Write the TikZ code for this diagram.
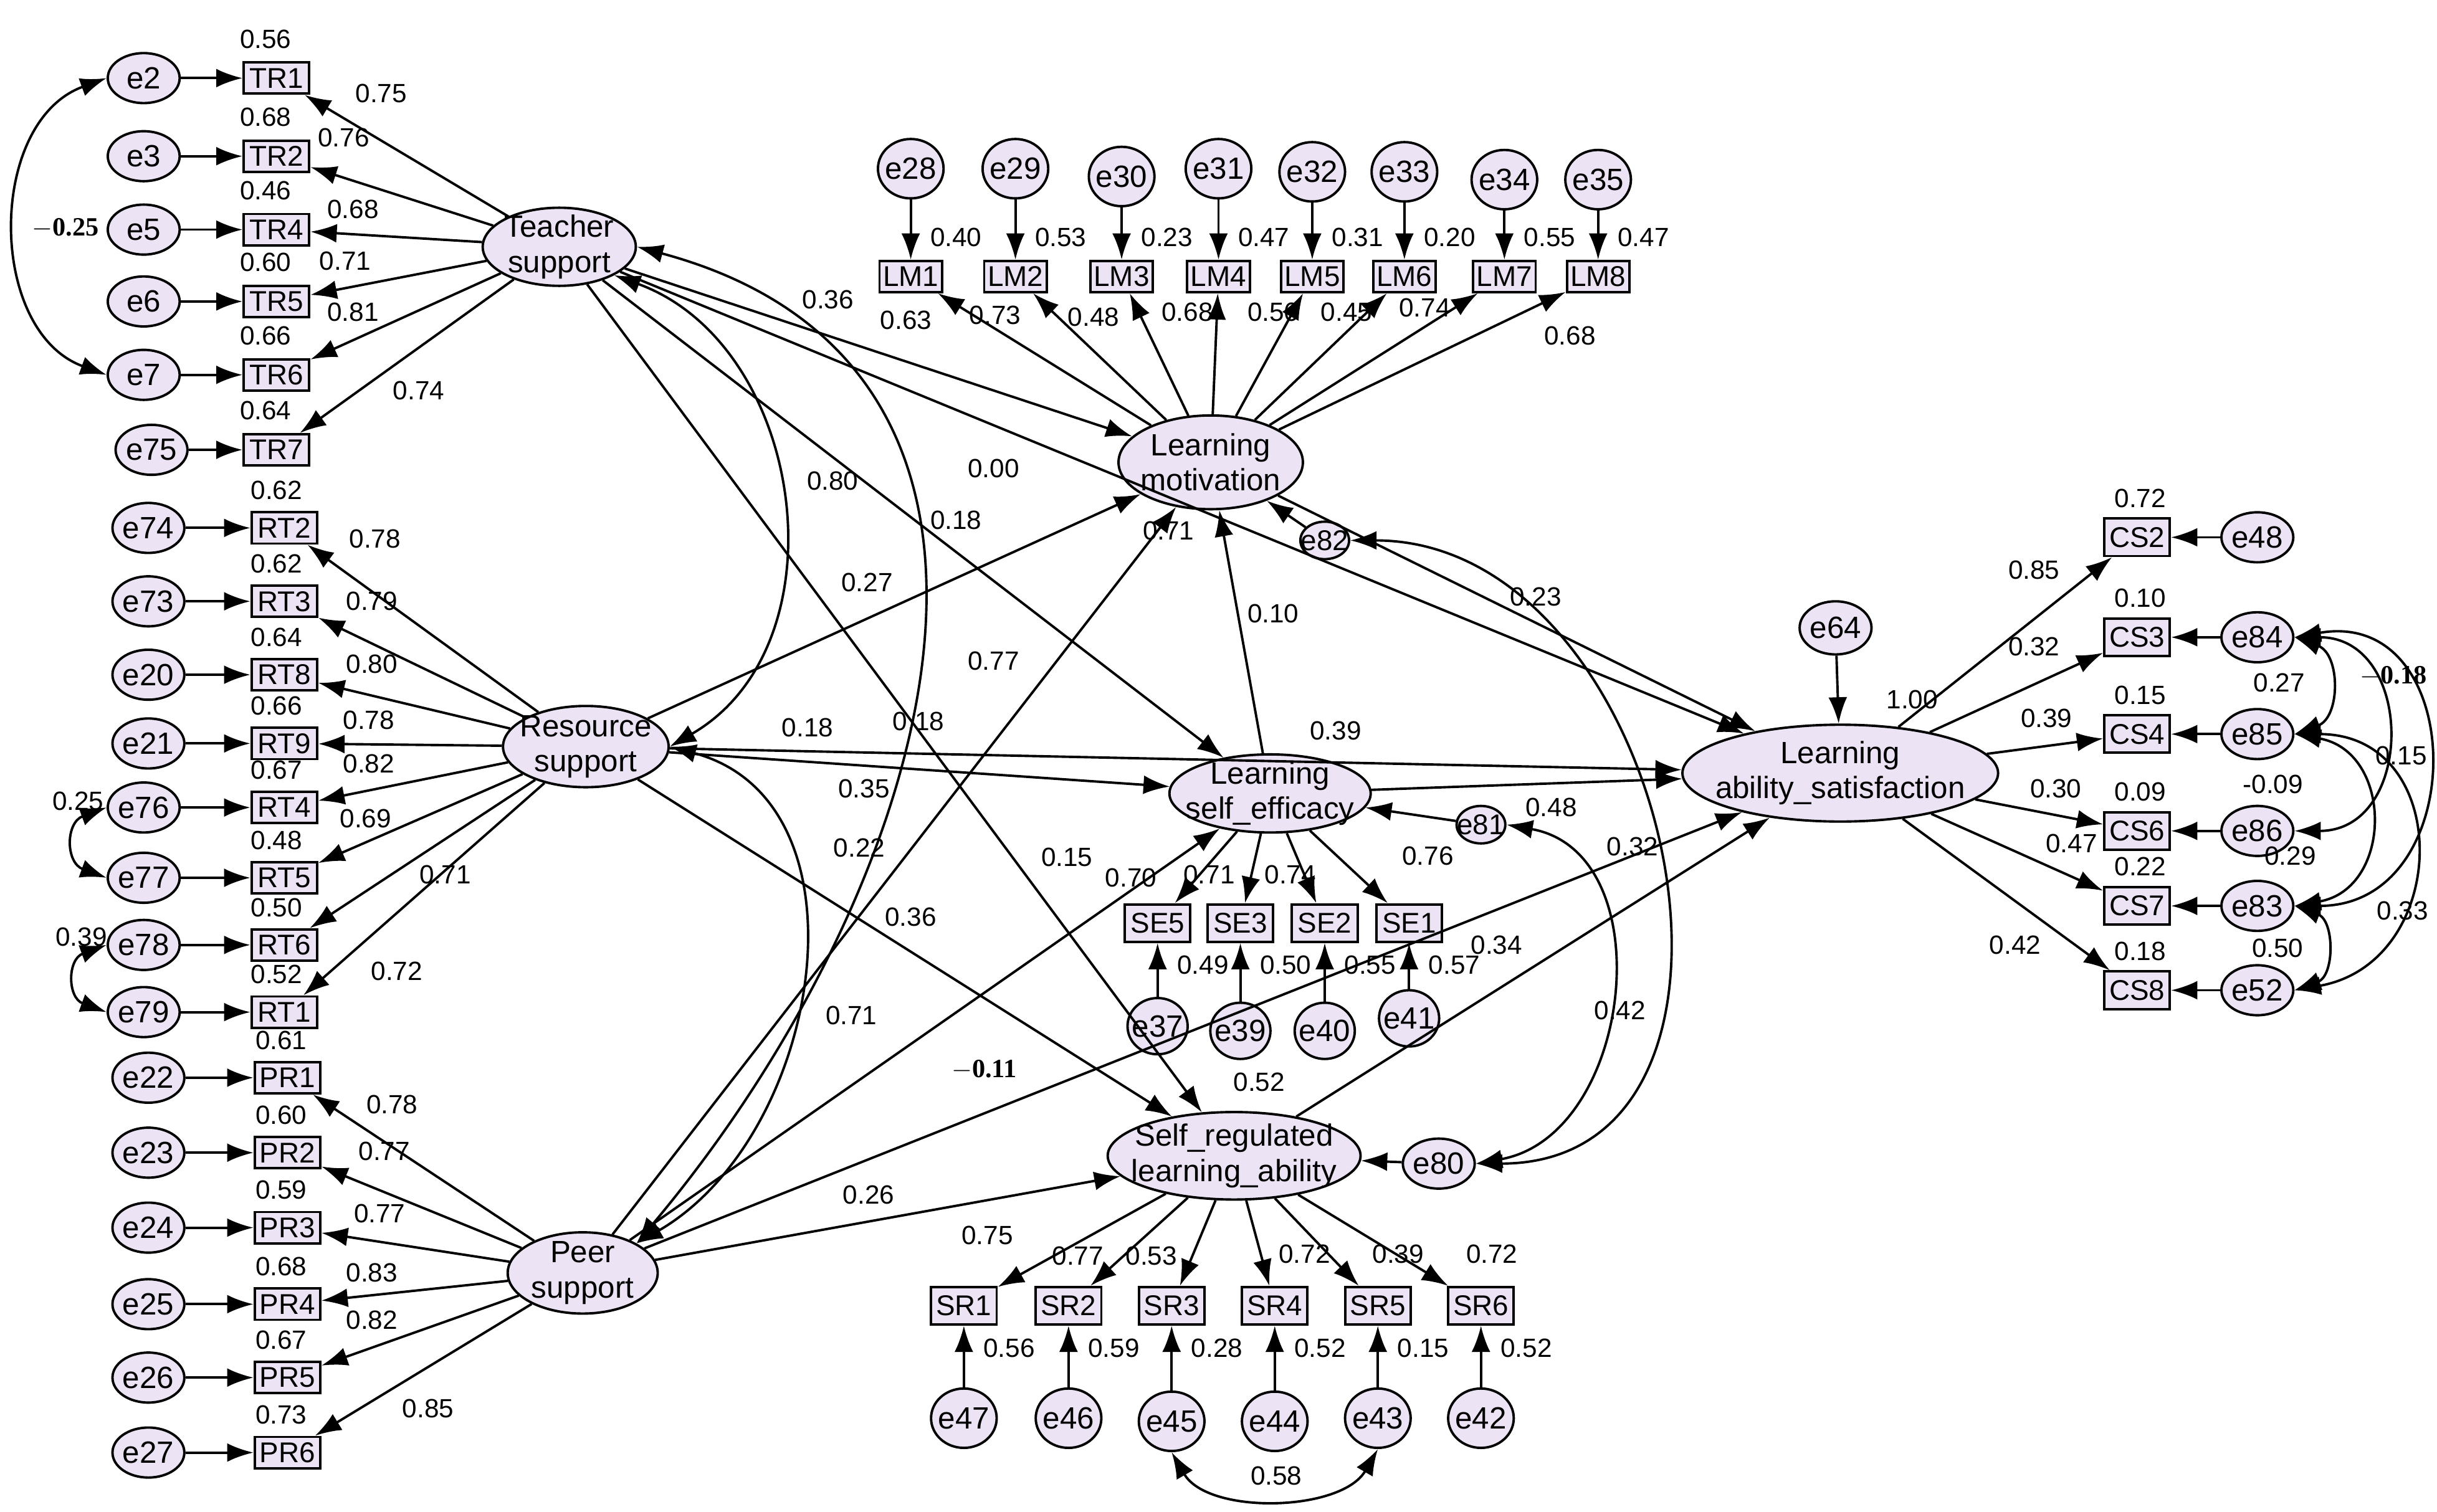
\documentclass[tikz,border=0pt]{standalone}
\usepackage{fontspec}
\setmainfont{Liberation Sans}
\newfontfamily\serifb{Liberation Serif}
\usetikzlibrary{shapes.geometric,arrows.meta}
\definecolor{lav}{RGB}{236,228,245}
\begin{document}
\begin{tikzpicture}[x=0.025cm,y=-0.025cm,line width=1.1pt,
 err/.style={ellipse,draw,fill=lav,minimum width=1.15cm,minimum height=0.8cm,inner sep=-2pt,font=\fontsize{14}{16}\selectfont},
 sm/.style={ellipse,draw,fill=lav,minimum width=0.75cm,minimum height=0.6cm,inner sep=-3pt,font=\fontsize{13}{15}\selectfont},
 box/.style={rectangle,draw,fill=lav,minimum width=1.05cm,minimum height=0.5cm,inner sep=1pt,font=\fontsize{13}{15}\selectfont},
 lat/.style={ellipse,draw,fill=lav,align=center,inner sep=-6pt,font=\fontsize{14}{16}\selectfont},
 num/.style={font=\fontsize{12}{14}\selectfont,inner sep=0pt},
 bnum/.style={font=\serifb\bfseries\fontsize{12}{14}\selectfont,inner sep=0pt},
 ar/.style={-{Latex[length=0.42cm,width=0.3cm]}},
 dar/.style={{Latex[length=0.42cm,width=0.3cm]}-{Latex[length=0.42cm,width=0.3cm]}}]
\fill[white] (0,0) rectangle (1560,968);
\useasboundingbox (0,0) rectangle (1560,968);
% latent
\node[lat,minimum width=2.45cm,minimum height=1.25cm] (TS) at (358,158) {Teacher\\support};
\node[lat,minimum width=2.65cm,minimum height=1.3cm] (RS) at (375,478) {Resource\\support};
\node[lat,minimum width=2.4cm,minimum height=1.3cm] (PS) at (373,815) {Peer\\support};
\node[lat,minimum width=2.95cm,minimum height=1.5cm] (LM) at (775,296) {Learning\\motivation};
\node[lat,minimum width=3.15cm,minimum height=1.25cm] (SE) at (813,508) {Learning\\self\_efficacy};
\node[lat,minimum width=3.4cm,minimum height=1.4cm] (SR) at (790,740) {Self\_regulated\\learning\_ability};
\node[lat,minimum width=4.0cm,minimum height=1.55cm] (LS) at (1178,495) {Learning\\ability\_satisfaction};
% Teacher indicators
\foreach \e/\b/\ex/\y/\r in {e2/TR1/92/50/0.56,e3/TR2/92/100/0.68,e5/TR4/92/147/0.46,e6/TR5/92/193/0.60,e7/TR6/92/240/0.66,e75/TR7/97/288/0.64}{
 \node[err] (\e) at (\ex,\y) {\e};
 \node[box] (\b) at (177,\y) {\b};
 \node[num] at (170,\y-25) {\r};
 \draw[ar] (\e)--(\b); \draw[ar] (TS)--(\b);}
\foreach \t/\x/\y in {0.75/244/60,0.76/220/88,0.68/226/134,0.71/221/167,0.81/226/200,0.74/268/250}{\node[num] at (\x,\y){\t};}
\draw[dar] (e2.west) to[out=200,in=160,looseness=1.1] (e7.west);
\node[bnum] at (42,146) {$-$0.25};
% Resource indicators
\foreach \e/\b/\ex/\y/\r in {e74/RT2/95/338/0.62,e73/RT3/95/385/0.62,e20/RT8/95/432/0.64,e21/RT9/95/476/0.66,e76/RT4/92/517/0.67,e77/RT5/92/562/0.48,e78/RT6/92/605/0.50,e79/RT1/92/648/0.52}{
 \node[err] (\e) at (\ex,\y) {\e};
 \node[box] (\b) at (182,\y) {\b};
 \node[num] at (177,\y-24) {\r};
 \draw[ar] (\e)--(\b); \draw[ar] (RS)--(\b);}
\foreach \t/\x/\y in {0.78/240/345,0.79/238/385,0.80/238/425,0.78/236/461,0.82/236/489,0.69/234/524,0.71/285/560,0.72/254/622}{\node[num] at (\x,\y){\t};}
\draw[dar] (e76.west) to[out=200,in=160,looseness=1.6] (e77.west);
\node[num] at (50,513) {0.25};
\draw[dar] (e78.west) to[out=200,in=160,looseness=1.6] (e79.west);
\node[num] at (52,600) {0.39};
% Peer indicators
\foreach \e/\b/\y/\r in {e22/PR1/690/0.61,e23/PR2/738/0.60,e24/PR3/786/0.59,e25/PR4/835/0.68,e26/PR5/882/0.67,e27/PR6/930/0.73}{
 \node[err] (\e) at (95,\y) {\e};
 \node[box] (\b) at (184,\y) {\b};
 \node[num] at (180,\y-24) {\r};
 \draw[ar] (\e)--(\b); \draw[ar] (PS)--(\b);}
\foreach \t/\x/\y in {0.78/251/707,0.77/246/737,0.77/243/777,0.83/238/815,0.82/238/845,0.85/274/902}{\node[num] at (\x,\y){\t};}
% LM indicators
\foreach \i/\x/\ey/\r in {28/583/108/0.40,29/650/108/0.53,30/718/113/0.23,31/780/108/0.47,32/840/110/0.31,33/899/110/0.20,34/963/115/0.55,35/1023/115/0.47}{
 \node[err,minimum width=1.05cm,minimum height=0.95cm] (e\i) at (\x,\ey) {e\i};
 \pgfmathtruncatemacro\k{\i-27}
 \node[box,minimum width=1.0cm] (LM\k) at (\x,177) {LM\k};
 \node[num] at (\x+29,152) {\r};
 \draw[ar] (e\i)--(LM\k); \draw[ar] (LM)--(LM\k);}
\foreach \t/\x/\y in {0.63/580/205,0.73/637/202,0.48/700/203,0.68/760/200,0.56/815/200,0.45/862/200,0.74/912/197,0.68/1005/215}{\node[num] at (\x,\y){\t};}
\node[sm] (e82) at (848,346) {e82};
\draw[ar] (e82)--(LM);
% SE indicators
\foreach \b/\e/\x/\ey/\r in {SE5/e37/741/657/0.49,SE3/e39/794/660/0.50,SE2/e40/848/660/0.55,SE1/e41/902/652/0.57}{
 \node[box,minimum height=0.6cm] (\b) at (\x,591) {\b};
 \node[err,minimum width=0.95cm,minimum height=0.9cm] (\e) at (\x,\ey) {\e};
 \node[num] at (\x+29,618) {\r};
 \draw[ar] (\e)--(\b); \draw[ar] (SE)--(\b);}
\foreach \t/\x/\y in {0.70/724/562,0.71/774/560,0.74/826/560,0.76/914/548}{\node[num] at (\x,\y){\t};}
\node[sm] (e81) at (948,528) {e81};
\draw[ar] (e81)--(SE);
% SR indicators
\foreach \b/\e/\x/\ey/\r in {SR1/e47/617/908/0.56,SR2/e46/684/908/0.59,SR3/e45/750/910/0.28,SR4/e44/816/910/0.52,SR5/e43/882/908/0.15,SR6/e42/948/908/0.52}{
 \node[box,minimum height=0.6cm] (\b) at (\x,836) {\b};
 \node[err,minimum width=1.05cm,minimum height=0.95cm] (\e) at (\x,\ey) {\e};
 \node[num] at (\x+29,863) {\r};
 \draw[ar] (\e)--(\b); \draw[ar] (SR)--(\b);}
\foreach \t/\x/\y in {0.75/632/791,0.77/690/804,0.53/737/804,0.72/835/803,0.39/895/803,0.72/955/803}{\node[num] at (\x,\y){\t};}
\draw[dar] (e45.south) to[out=-60,in=-120,looseness=0.9] (e43.south);
\node[num] at (817,945) {0.58};
\node[err] (e80) at (921,745) {e80};
\draw[ar] (e80)--(SR);
% Satisfaction indicators
\foreach \b/\e/\y/\r in {CS2/e48/344/0.72,CS3/e84/408/0.10,CS4/e85/470/0.15,CS6/e86/532/0.09,CS7/e83/580/0.22,CS8/e52/634/0.18}{
 \node[box,minimum height=0.6cm] (\b) at (1368,\y) {\b};
 \node[err] (\e) at (1445,\y) {\e};
 \node[num] at (1370,\y-25) {\r};
 \draw[ar] (\e)--(\b); \draw[ar] (LS)--(\b);}
\foreach \t/\x/\y in {0.85/1302/365,0.32/1302/414,0.39/1310/460,0.30/1316/505,0.47/1326/540,0.42/1290/605}{\node[num] at (\x,\y){\t};}
\node[err,minimum height=0.85cm] (e64) at (1175,402) {e64};
\draw[ar] (e64)--(LS);
\node[num] at (1224,448) {1.00};
\draw[dar] (e84.east) to[out=-20,in=20,looseness=1.3] (e85.east);
\draw[dar] (e84.east) to[out=0,in=0,looseness=1.6] (e86.east);
\draw[dar] (e85.east) to[out=-10,in=10,looseness=1.5] (e83.east);
\draw[dar] (e84.east) to[out=10,in=0,looseness=1.7] (e83.east);
\draw[dar] (e85.east) to[out=0,in=10,looseness=1.6] (e52.east);
\draw[dar] (e83.east) to[out=-20,in=20,looseness=1.3] (e52.east);
\node[num] at (1459,437) {0.27};
\node[bnum] at (1532,433) {$-$0.18};
\node[num] at (1455,502) {-0.09};
\node[num] at (1466,548) {0.29};
\node[num] at (1537,484) {0.15};
\node[num] at (1538,583) {0.33};
\node[num] at (1458,607) {0.50};
% structural paths
\draw[ar] (TS)--(LM); \node[num] at (530,192) {0.36};
\draw[ar] (TS)--(LS); \node[num] at (748,340) {0.71};
\draw[ar] (TS)--(SE); \node[num] at (612,333) {0.18};
\draw[ar] (TS)--(SR); \node[num] at (588,462) {0.18};
\draw[ar] (RS)--(LM); \node[num] at (555,373) {0.27};
\node[num] at (636,300) {0.00};
\draw[ar] (RS)--(SE); \node[num] at (517,466) {0.18};
\draw[ar] (RS)--(LS); \node[num] at (855,468) {0.39};
\draw[ar] (RS)--(SR); \node[num] at (583,587) {0.36};
\node[num] at (553,505) {0.35};
\draw[ar] (PS)--(LM); \node[num] at (550,543) {0.22};
\draw[ar] (PS)--(SE); \node[num] at (683,549) {0.15};
\draw[ar] (PS)--(LS); \node[num] at (958,605) {0.34};
\draw[ar] (PS)--(SR); \node[num] at (556,765) {0.26};
\node[bnum] at (630,685) {$-$0.11};
\draw[ar] (SE)--(LM); \node[num] at (815,393) {0.10};
\draw[ar] (LM)--(LS); \node[num] at (983,382) {0.23};
\draw[ar] (SE)--(LS); \node[num] at (993,517) {0.48};
\draw[ar] (SR)--(LS); \node[num] at (1045,542) {0.32};
\node[num] at (806,693) {0.52};
% latent covariances
\draw[dar] (TS.south east) to[out=-20,in=30,looseness=1.1] (RS.east);
\node[num] at (533,308) {0.80};
\draw[dar] (TS.east) to[out=-15,in=50,looseness=1.2] (PS.north east);
\node[num] at (636,423) {0.77};
\draw[dar] (RS.east) to[out=-15,in=30,looseness=1.1] (PS.north east);
\node[num] at (545,650) {0.71};
% disturbance covariances
\draw[dar] (e82.east) to[out=0,in=0,looseness=1.3] (e80.east);
\node[num] at (1037,647) {0.42};
\draw[dar] (e81.east) to[out=-10,in=10,looseness=1.2] (e80.east);
\end{tikzpicture}
\end{document}
